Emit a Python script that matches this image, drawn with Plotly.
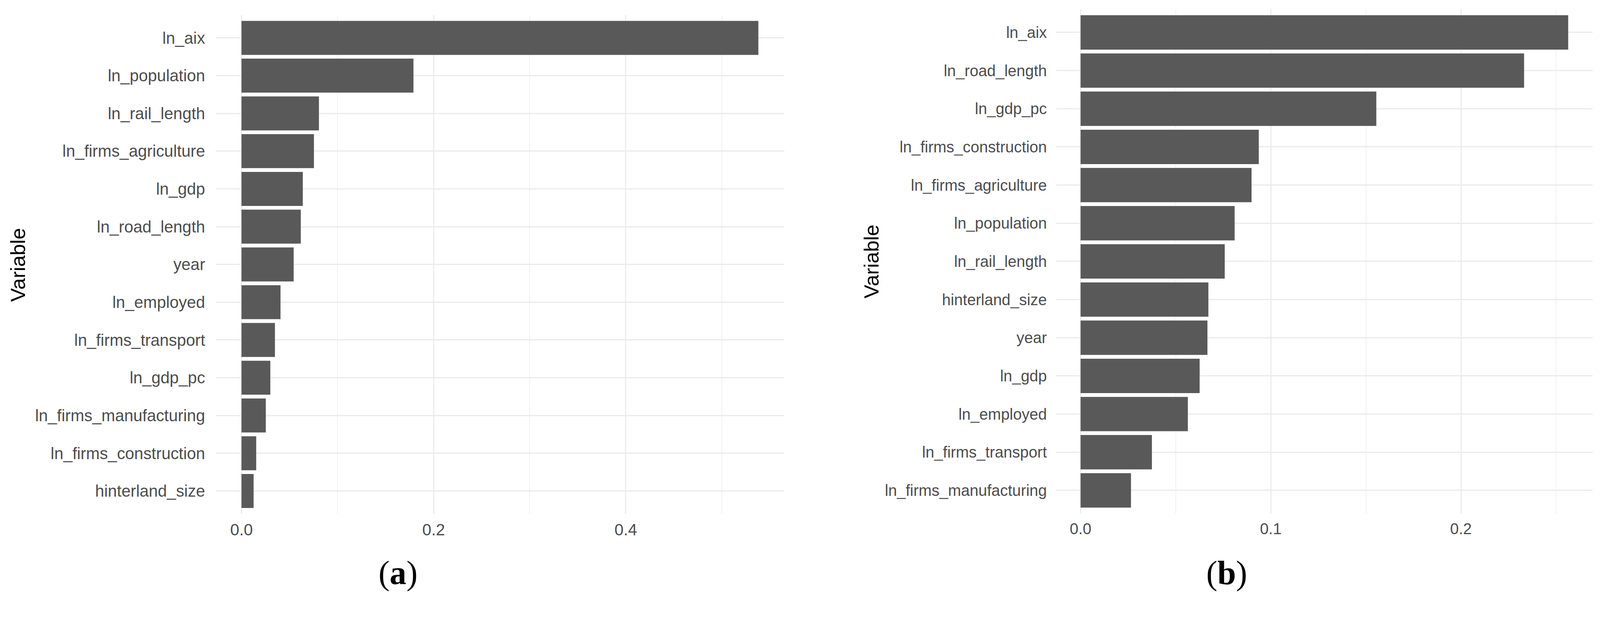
import plotly.graph_objects as go

# panel (a) - variable importance, top to bottom
vars_a = ['ln_aix', 'ln_population', 'ln_rail_length', 'ln_firms_agriculture', 'ln_gdp',
          'ln_road_length', 'year', 'ln_employed', 'ln_firms_transport', 'ln_gdp_pc',
          'ln_firms_manufacturing', 'ln_firms_construction', 'hinterland_size']
imp_a = [0.538, 0.179, 0.0806, 0.0754, 0.0638, 0.0617, 0.0543, 0.0406, 0.0348, 0.0300,
         0.0253, 0.0153, 0.0126]

# panel (b)
vars_b = ['ln_aix', 'ln_road_length', 'ln_gdp_pc', 'ln_firms_construction', 'ln_firms_agriculture',
          'ln_population', 'ln_rail_length', 'hinterland_size', 'year', 'ln_gdp',
          'ln_employed', 'ln_firms_transport', 'ln_firms_manufacturing']
imp_b = [0.2564, 0.2332, 0.1555, 0.0937, 0.0899, 0.0810, 0.0758, 0.0672, 0.0667, 0.0626,
         0.0564, 0.0375, 0.0265]

ticks_a = [0.0, 0.2, 0.4]
ticks_b = [0.0, 0.1, 0.2]
minor_a = [0.1, 0.3, 0.5]
minor_b = [0.05, 0.15, 0.25]

# the photo comes out slightly zoomed and offset by the page margin,
# so lay things out in target pixels and convert
K = 1.027
OFF = 8
W = round(4205 / K - OFF)
H = round(1579 / K - OFF)


def px(x):
    return (x / K - OFF) / W


def py(y):
    return 1 - (y / K - OFF) / H


def s(v):
    return v / K


bar_col = '#595959'
grid_col = '#EBEBEB'
txt_col = '#4D4D4D'
sans = 'Liberation Sans'

fig = go.Figure()
fig.add_trace(go.Bar(x=imp_a, y=vars_a, orientation='h', marker=dict(color=bar_col, line=dict(width=0)),
                     xaxis='x', yaxis='y', showlegend=False))
fig.add_trace(go.Bar(x=imp_b, y=vars_b, orientation='h', marker=dict(color=bar_col, line=dict(width=0)),
                     xaxis='x2', yaxis='y2', showlegend=False))


def xax(domain, rng, ticks, minor, anchor, fs):
    return dict(domain=domain, range=rng, anchor=anchor, automargin=False,
                tickvals=ticks, ticktext=['%.1f' % t for t in ticks],
                showgrid=True, gridcolor=grid_col, gridwidth=s(3.5),
                zeroline=False, showline=False, ticks='',
                ticklabelstandoff=round(s(13)),
                tickfont=dict(family=sans, size=s(fs), color=txt_col),
                minor=dict(tickvals=minor, showgrid=True, gridcolor='#F1F1F1', gridwidth=s(2.5)))


def yax(domain, anchor, fs, standoff):
    return dict(domain=domain, range=[12.6, -0.6], anchor=anchor, type='category', automargin=False,
                showgrid=True, gridcolor=grid_col, gridwidth=s(3.5),
                zeroline=False, showline=False, ticks='',
                ticklabelstandoff=round(s(standoff)),
                tickfont=dict(family=sans, size=s(fs), color=txt_col))


fig.update_layout(
    width=W, height=H,
    margin=dict(l=0, r=0, t=0, b=0),
    paper_bgcolor='white', plot_bgcolor='white',
    bargap=0.1,
    xaxis=xax([px(567), px(2062)], [-0.0269, 0.565], ticks_a, minor_a, 'y', 43),
    yaxis=yax([py(1350), py(40)], 'x', 43, 27),
    xaxis2=xax([px(2777), px(4187)], [-0.0128, 0.2692], ticks_b, minor_b, 'y2', 41),
    yaxis2=yax([py(1349), py(25)], 'x2', 41, 24),
)

# axis titles
for xp, yp in [(47, 696), (2291, 687)]:
    fig.add_annotation(text='Variable', x=px(xp), y=py(yp), xref='paper', yref='paper',
                       textangle=-90, showarrow=False, xanchor='center', yanchor='middle',
                       font=dict(family=sans, size=s(54), color='black'))

# panel labels
for lab, xp in [('a', 1046), ('b', 3225)]:
    fig.add_annotation(text='(<b>%s</b>)' % lab, x=px(xp), y=py(1506), xref='paper', yref='paper',
                       showarrow=False, xanchor='center', yanchor='middle',
                       font=dict(family='Liberation Serif', size=s(88), color='black'))

fig.write_html("out.html")
